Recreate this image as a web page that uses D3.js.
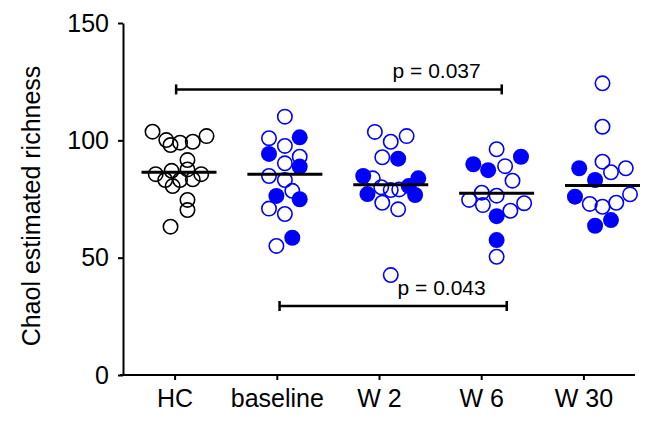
<!DOCTYPE html>
<html>
<head>
<meta charset="utf-8">
<script src="https://cdn.jsdelivr.net/npm/d3@7"></script>
<style>
  html, body { margin: 0; padding: 0; background: #fff; }
  svg { display: block; font-family: Arial, "Liberation Sans", sans-serif; }
</style>
</head>
<body>
<svg id="chart" width="661" height="424"></svg>
<script>
// ---- data ----
const groups = ["HC", "baseline", "W 2", "W 6", "W 30"];
const yTicks = [0, 50, 100, 150];
const yTitle = "Chaol estimated richness";

// values, horizontal jitter (in group-step units), filled flag
const hcValues = [103.7, 100.1, 98.0, 99.0, 99.4, 101.8, 91.6, 87.6, 85.6, 87.0, 85.6, 83.1, 83.1, 83.4, 80.5, 74.6, 70.3, 63.2];
const hcJitter = [-0.25, -0.12, -0.08, 0.01, 0.13, 0.26, 0.08, 0.08, -0.22, -0.07, 0.21, -0.13, 0.01, 0.13, -0.06, 0.08, 0.08, -0.08];
const hcFilled = [0,0,0,0,0,0,0,0,0,0,0,0,0,0,0,0,0,0];

const baseValues = [110.1, 100.9, 101.3, 97.6, 94.2, 93.0, 88.8, 90.2, 84.8, 83.1, 76.3, 78.5, 74.9, 70.9, 68.6, 58.5, 55.0];
const baseJitter = [0.0, -0.15, 0.14, 0.0, -0.15, 0.14, 0.14, 0.0, -0.15, 0.0, -0.08, 0.07, 0.14, -0.15, 0.0, 0.07, -0.08];
const baseFilled = [0,0,1,0,1,0,1,0,0,0,1,0,1,0,0,1,0];

const w2Values = [103.6, 99.4, 101.8, 92.8, 92.2, 84.8, 83.8, 83.8, 77.1, 80.0, 78.8, 79.1, 80.5, 76.7, 73.4, 70.6, 42.6];
const w2Jitter = [-0.15, 0.0, 0.15, -0.08, 0.07, -0.26, -0.17, 0.26, -0.22, -0.09, 0.0, 0.08, 0.17, 0.23, -0.08, 0.07, 0.0];
const w2Filled = [0,0,0,0,1,1,0,1,1,0,0,0,1,1,0,0,0];

const w6Values = [96.2, 93.0, 89.8, 89.0, 87.3, 82.8, 77.7, 76.4, 74.6, 72.4, 73.2, 70.0, 67.7, 57.5, 50.4];
const w6Jitter = [0.0, 0.23, -0.22, 0.08, -0.08, 0.15, -0.14, 0.0, -0.26, -0.13, 0.26, 0.13, 0.0, 0.0, 0.0];
const w6Filled = [0,1,1,0,1,0,0,0,0,0,0,0,1,1,0];

const w30Values = [124.3, 105.8, 90.9, 88.1, 86.4, 88.1, 83.1, 76.0, 72.9, 71.7, 73.4, 77.0, 63.6, 66.0];
const w30Jitter = [0.0, 0.0, 0.0, -0.22, 0.08, 0.22, -0.07, -0.26, -0.12, 0.0, 0.13, 0.26, -0.07, 0.08];
const w30Filled = [0,0,0,1,0,0,1,1,0,0,0,0,1,1];

const groupMeans = [86.4, 85.6, 81.1, 77.4, 80.7];

// brackets: from/to in category-index units, y value, label
const brackets = [
  { from: 0.01, to: 3.196, y: 121.7, label: "p = 0.037" },
  { from: 1.022, to: 3.245, y: 29.4, label: "p = 0.043" }
];

// ---- build ----
const valueSets = [hcValues, baseValues, w2Values, w6Values, w30Values];
const jitterSets = [hcJitter, baseJitter, w2Jitter, w6Jitter, w30Jitter];
const filledSets = [hcFilled, baseFilled, w2Filled, w6Filled, w30Filled];

const points = [];
groups.forEach((g, gi) => {
  valueSets[gi].forEach((v, i) => {
    points.push({ group: g, gi, value: v, jitter: jitterSets[gi][i], filled: !!filledSets[gi][i] });
  });
});

const svg = d3.select("#chart");

const y = d3.scaleLinear().domain([0, 150]).range([375, 23]);
const xAxisScale = d3.scaleBand().domain(groups).range([124, 635]).padding(0);
const xData = d3.scalePoint().domain(groups).range([179, 602.5]);
const xIndex = d3.scaleLinear().domain([0, 4]).range([175.1, 583.9]);

// Y axis
const yAxis = svg.append("g")
  .attr("transform", "translate(123,0)")
  .call(d3.axisLeft(y).tickValues(yTicks).tickSize(5).tickSizeOuter(0).tickPadding(9));
yAxis.select(".domain").attr("stroke", "#000").attr("stroke-width", 2);
yAxis.selectAll(".tick line").attr("stroke", "#000").attr("stroke-width", 2);
yAxis.selectAll(".tick text").attr("font-size", 25).attr("fill", "#000")
  .attr("font-family", "Arial, 'Liberation Sans', sans-serif");

// X axis
const xAxis = svg.append("g")
  .attr("transform", "translate(0,375)")
  .call(d3.axisBottom(xAxisScale).tickSize(5).tickSizeOuter(0).tickPadding(9));
xAxis.select(".domain").attr("stroke", "#000").attr("stroke-width", 2)
  .attr("d", "M120,0H635");
xAxis.selectAll(".tick line").attr("stroke", "#000").attr("stroke-width", 2);
xAxis.selectAll(".tick text").attr("font-size", 25).attr("fill", "#000")
  .attr("font-family", "Arial, 'Liberation Sans', sans-serif");

// Y title
svg.append("text")
  .attr("transform", `translate(40,${(y(0) + y(150)) / 2 + 7}) rotate(-90)`)
  .attr("text-anchor", "middle")
  .attr("font-size", 25)
  .attr("fill", "#000")
  .text(yTitle);

// points: open first, filled on top
const step = xData.step();
const px = d => xData(d.group) + d.jitter * step;
const blue = "#0000ff";

svg.append("g").selectAll("circle.open")
  .data(points.filter(d => !d.filled))
  .join("circle")
  .attr("cx", px)
  .attr("cy", d => y(d.value))
  .attr("r", 7.2)
  .attr("fill", "none")
  .attr("stroke", d => d.gi === 0 ? "#000" : blue)
  .attr("stroke-width", 1.6);

svg.append("g").selectAll("circle.filled")
  .data(points.filter(d => d.filled))
  .join("circle")
  .attr("cx", px)
  .attr("cy", d => y(d.value))
  .attr("r", 8)
  .attr("fill", blue)
  .attr("stroke", "none");

// mean lines
svg.append("g").selectAll("line")
  .data(groups.map((g, i) => ({ g, m: groupMeans[i] })))
  .join("line")
  .attr("x1", d => xData(d.g) - 37.5)
  .attr("x2", d => xData(d.g) + 37.5)
  .attr("y1", d => y(d.m))
  .attr("y2", d => y(d.m))
  .attr("stroke", "#000")
  .attr("stroke-width", 3);

// significance brackets
const bg = svg.append("g").selectAll("g").data(brackets).join("g");
bg.append("line")
  .attr("x1", d => xIndex(d.from)).attr("x2", d => xIndex(d.to))
  .attr("y1", d => y(d.y)).attr("y2", d => y(d.y))
  .attr("stroke", "#000").attr("stroke-width", 2.5);
bg.append("line")
  .attr("x1", d => xIndex(d.from)).attr("x2", d => xIndex(d.from))
  .attr("y1", d => y(d.y) - 5).attr("y2", d => y(d.y) + 5)
  .attr("stroke", "#000").attr("stroke-width", 2.5);
bg.append("line")
  .attr("x1", d => xIndex(d.to)).attr("x2", d => xIndex(d.to))
  .attr("y1", d => y(d.y) - 5).attr("y2", d => y(d.y) + 5)
  .attr("stroke", "#000").attr("stroke-width", 2.5);
bg.append("text")
  .attr("x", d => xIndex(d.to) - 21)
  .attr("y", d => y(d.y) - 11)
  .attr("text-anchor", "end")
  .attr("font-size", 21)
  .attr("fill", "#000")
  .text(d => d.label);
</script>
</body>
</html>
